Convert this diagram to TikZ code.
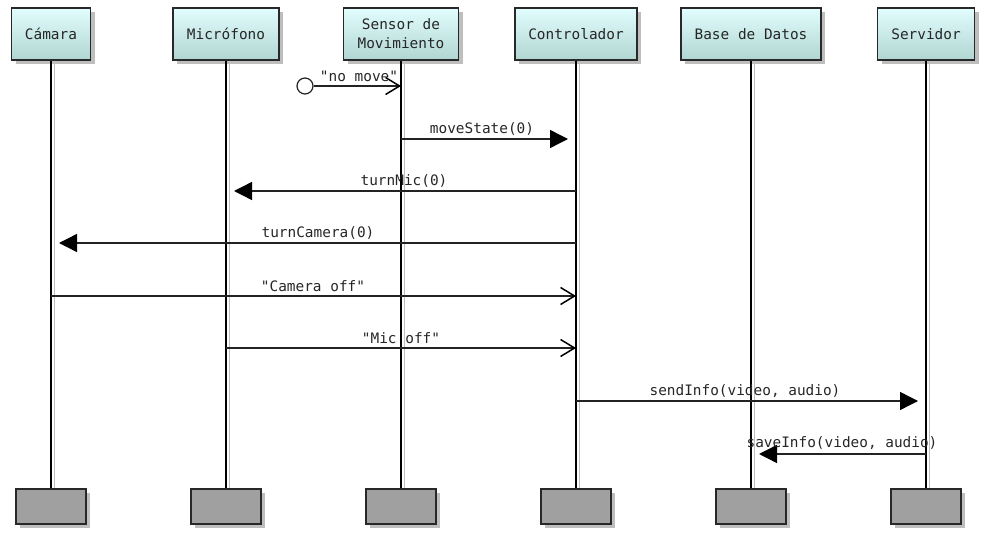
\documentclass[tikz,border=0pt]{standalone}
\usepackage{fontspec}
\newfontfamily\umlfont{DejaVu Sans Mono}
\usetikzlibrary{arrows.meta,shadows}
\definecolor{headtop}{RGB}{226,253,253}
\definecolor{headbot}{RGB}{176,214,210}
\definecolor{edgecol}{RGB}{40,40,40}
\definecolor{footfill}{RGB}{160,160,160}
\definecolor{msgcol}{RGB}{35,35,35}
\definecolor{shadowcol}{RGB}{190,190,190}
\begin{document}
\begin{tikzpicture}[x=1pt,y=-1pt,
  font=\umlfont\fontsize{14.4}{19}\selectfont,
  boxshadow/.style={drop shadow={shadow xshift=4pt,shadow yshift=-4pt,fill=shadowcol,opacity=1}},
  headbox/.style={draw=edgecol,line width=1.2pt,top color=headtop,bottom color=headbot,
    minimum height=52pt,inner sep=0pt,align=center,text=black!85,boxshadow},
  footbox/.style={draw=edgecol,line width=1.2pt,fill=footfill,minimum width=70pt,
    minimum height=35pt,inner sep=0pt,boxshadow},
  life/.style={draw=black,line width=1.1pt},
  lifeshade/.style={draw=shadowcol,line width=1.6pt},
  msgfilled/.style={draw=msgcol,line width=1.4pt,shorten >=8pt,
    -{Triangle[length=18pt,width=18pt,color=black]}},
  msgopen/.style={draw=msgcol,line width=1.4pt,
    -{Straight Barb[length=14pt,width=17pt,line width=1.5pt,color=black]}},
  lbl/.style={inner sep=0pt,text=black!85},
]
\useasboundingbox (0,0) rectangle (988,537);

% participant heads
\node[headbox,minimum width=79pt]  (cam) at (51,34)  {Cámara};
\node[headbox,minimum width=106pt] (mic) at (226,34) {Micrófono};
\node[headbox,minimum width=115pt] (sen) at (401,34) {Sensor de\\Movimiento};
\node[headbox,minimum width=122pt] (ctl) at (576,34) {Controlador};
\node[headbox,minimum width=140pt] (bdd) at (751,34) {Base de Datos};
\node[headbox,minimum width=97pt]  (srv) at (926,34) {Servidor};

% participant feet
\node[footbox] (camf) at (51,506.5)  {};
\node[footbox] (micf) at (226,506.5) {};
\node[footbox] (senf) at (401,506.5) {};
\node[footbox] (ctlf) at (576,506.5) {};
\node[footbox] (bddf) at (751,506.5) {};
\node[footbox] (srvf) at (926,506.5) {};

% lifelines: a black line with a grey shade beside it
\foreach \p in {cam,mic,sen,ctl,bdd,srv}{
  \draw[lifeshade] ([xshift=3.5pt]\p.south) -- ([xshift=3.5pt]\p f.north);
  \draw[life] (\p.south) -- (\p f.north);
}

% message rows
\coordinate (r1) at (0,86);
\coordinate (r2) at (0,139);
\coordinate (r3) at (0,191);
\coordinate (r4) at (0,243);
\coordinate (r5) at (0,296);
\coordinate (r6) at (0,348);
\coordinate (r7) at (0,401);
\coordinate (r8) at (0,454);

% found message
\node[circle,draw=msgcol,line width=1.2pt,fill=white,minimum size=16pt,inner sep=0pt] (found) at (305,86) {};
\draw[msgopen] (found.east) -- (sen |- r1);
\node[lbl] (t1) at (359,76) {"no move"};

\draw[msgfilled] (sen |- r2) -- (ctl |- r2);
\node[lbl] (t2) at (482,129) {moveState(0)};

\draw[msgfilled] (ctl |- r3) -- (mic |- r3);
\node[lbl] (t3) at (404,181) {turnMic(0)};

\draw[msgfilled] (ctl |- r4) -- (cam |- r4);
\node[lbl] (t4) at (318,233) {turnCamera(0)};

\draw[msgopen] (cam |- r5) -- (ctl |- r5);
\node[lbl] (t5) at (313,286) {"Camera off"};

\draw[msgopen] (mic |- r6) -- (ctl |- r6);
\node[lbl] (t6) at (401,338) {"Mic off"};

\draw[msgfilled] (ctl |- r7) -- (srv |- r7);
\node[lbl] (t7) at (745,391) {sendInfo(video, audio)};

\draw[msgfilled] (srv |- r8) -- (bdd |- r8);
\node[lbl] (t8) at (842,443) {saveInfo(video, audio)};
\end{tikzpicture}
\end{document}
